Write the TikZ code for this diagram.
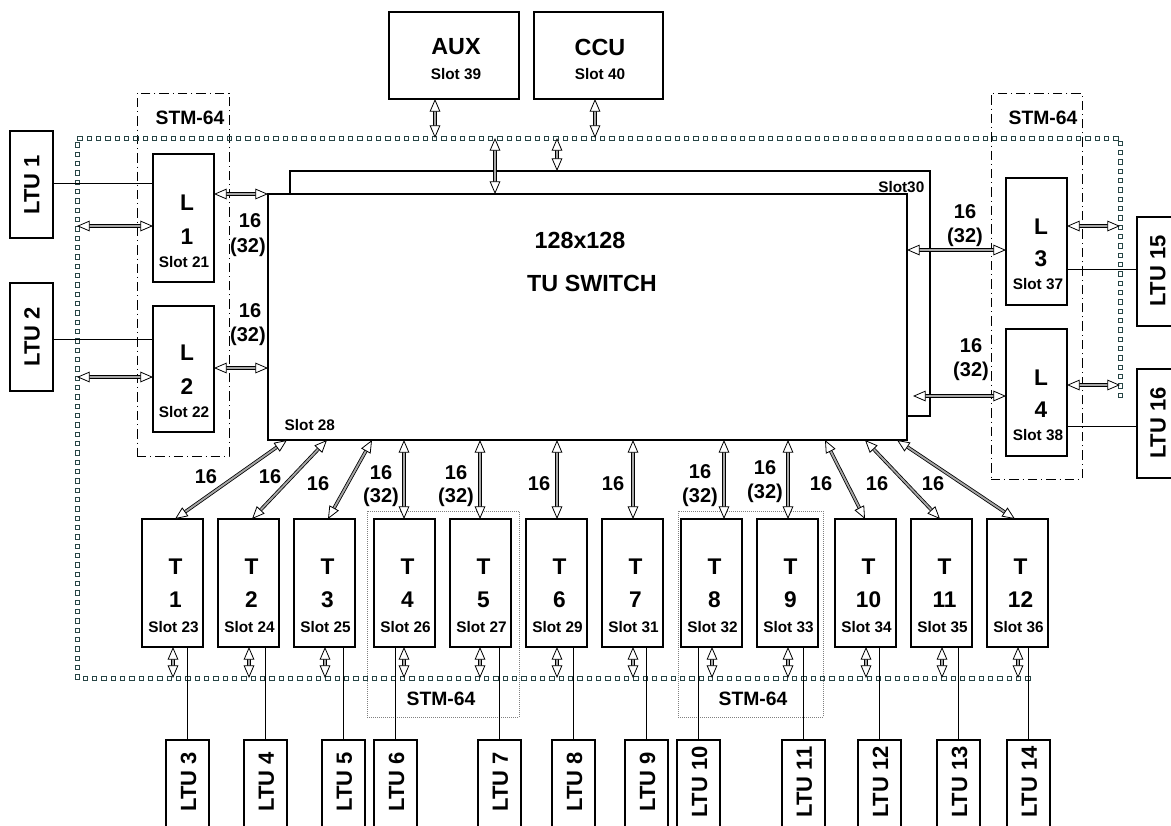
\documentclass[tikz,border=0pt]{standalone}
\usepackage{fontspec}
\setmainfont{Liberation Sans}
\usetikzlibrary{arrows.meta,decorations.markings,calc}
\definecolor{busc}{RGB}{40,70,70}
\newcommand\fsz[1]{\fontsize{#1}{#1}\selectfont\bfseries}
\tikzset{
  box/.style={draw, line width=0.8pt, fill=white, inner sep=0pt, outer sep=0pt, anchor=north west},
  stmdd/.style={draw, line width=0.7pt, dash pattern=on 7pt off 3pt on 0.8pt off 3pt, inner sep=0pt, outer sep=0pt, anchor=north west},
  stmdot/.style={draw=gray, line width=0.5pt, densely dotted, inner sep=0pt, outer sep=0pt, anchor=north west},
  tip/.tip={Triangle[fill=white,length=9.5pt,width=8pt,line width=0.6pt]},
  dbl/.style={draw, line width=0.6pt, double=gray!70, double distance=1.4pt, tip-tip},
  wire/.style={draw, line width=0.6pt},
  bus/.style={postaction={decorate}, decoration={markings,
     mark=between positions 0 and 1 step 7pt with {\node[draw=busc, line width=0.45pt, minimum size=3.3pt, inner sep=0pt]{};}}},
  big/.style={font=\fsz{17}},
  num/.style={font=\fsz{15}},
  slot/.style={font=\fsz{11.5}},
  ltu/.style={font=\fsz{16.5}, rotate=90},
  stml/.style={font=\fsz{14.5}},
}
\newcommand\bx[6][box]{\node[#1, minimum width={(#5-#3)*0.75pt}, minimum height={(#6-#4)*0.75pt}] (#2) at (#3,#4) {};}
\begin{document}
\begin{tikzpicture}[x=0.75pt,y=-0.75pt]
\useasboundingbox (0,0) rectangle (1171,825);
% STM-64 containers
\bx[stmdd]{stmL}{137}{93}{229}{456}
\bx[stmdd]{stmR}{991}{93}{1082}{479}
\bx[stmdot]{stmB1}{367}{511}{519}{717}
\bx[stmdot]{stmB2}{678}{511}{823}{717}
\node[stml] (stmLt) at (190,118) {STM-64};
\node[stml] (stmRt) at (1043,118) {STM-64};
\node[stml] (stmB1t) at (441,699) {STM-64};
\node[stml] (stmB2t) at (753,699) {STM-64};
% bus
\coordinate (bTL) at (77,138);
\coordinate (bTR) at (1120,138);
\coordinate (bRE) at (1120,395);
\coordinate (bBL) at (77,678);
\coordinate (bBE) at (1028,678);
\path[bus] (bRE) -- (bTR) -- (bTL) -- (bBL) -- (bBE);
% switch
\bx{back}{290}{171}{930}{416}
\bx{front}{268}{194}{907}{440}
\node[font=\fsz{17.5}] (sw1) at (580,240) {128x128};
\node[font=\fsz{17.5}] (sw2) at (592,283) {TU SWITCH};
\node[slot, anchor=west] (s28) at (280,425) {Slot 28};
\node[slot, anchor=east] (s30) at (929,187) {Slot30};
% AUX CCU
\bx{aux}{389}{12}{519}{99}
\bx{ccu}{534}{12}{663}{99}
\node[font=\fsz{17.5}] (auxt) at (456,47) {AUX};
\node[slot] (auxs) at (456,74) {Slot 39};
\node[font=\fsz{17.5}] (ccut) at (600,47) {CCU};
\node[slot] (ccus) at (600,74) {Slot 40};
% L boxes
\bx{L1}{153}{154}{214}{282}
\bx{L2}{153}{306}{214}{432}
\bx{L3}{1006}{178}{1067}{305}
\bx{L4}{1006}{329}{1067}{456}
\node[big] (L1a) at (187,203) {L};
\node[big] (L1b) at (187,237) {1};
\node[slot] (L1c) at (184,262) {Slot 21};
\node[big] (L2a) at (187,353) {L};
\node[big] (L2b) at (187,387) {2};
\node[slot] (L2c) at (184,412) {Slot 22};
\node[big] (L3a) at (1041,227) {L};
\node[big] (L3b) at (1041,259) {3};
\node[slot] (L3c) at (1038,284) {Slot 37};
\node[big] (L4a) at (1041,378) {L};
\node[big] (L4b) at (1041,410) {4};
\node[slot] (L4c) at (1038,435) {Slot 38};
% side LTUs
\bx{LTU1}{10}{131}{53}{238}
\bx{LTU2}{10}{283}{53}{391}
\bx{LTU15}{1137}{217}{1185}{326}
\bx{LTU16}{1137}{369}{1185}{478}
\node[ltu] (LTU1t) at (32,185) {LTU 1};
\node[ltu] (LTU2t) at (32,337) {LTU 2};
\node[ltu] (LTU15t) at (1158,271) {LTU 15};
\node[ltu] (LTU16t) at (1158,423) {LTU 16};
% T boxes
\foreach \i/\xl/\s in {1/142/23,2/218/24,3/294/25,4/374/26,5/450/27,6/526/29,7/602/31,8/681/32,9/757/33,10/835/34,11/911/35,12/987/36}{
  \bx{T\i}{\xl}{519}{\xl+61}{647}
  \node[big] (T\i a) at (\xl+33.5,567) {T};
  \node[big] (T\i b) at (\xl+33.5,600) {\i};
  \node[slot] (T\i c) at (\xl+31.5,627) {Slot \s};
}
% bottom LTUs
\foreach \i/\xl in {3/166,4/244,5/322,6/374,7/478,8/552,9/625,10/677,11/782,12/858,13/937,14/1007}{
  \bx{LTU\i}{\xl}{740}{\xl+43}{835}
  \node[ltu] (LTU\i t) at (\xl+22.5,782) {LTU \i};
}
% plain wires
\draw[wire] (LTU1.east |- 0,183) -- (L1.west |- 0,183);
\draw[wire] (LTU2.east |- 0,339) -- (L2.west |- 0,339);
\draw[wire] (L3.east |- 0,269) -- (LTU15.west |- 0,269);
\draw[wire] (L4.east |- 0,426) -- (LTU16.west |- 0,426);
\foreach \t/\l in {1/3,2/4,3/5,4/6,5/7,6/8,7/9,8/10,9/11,10/12,11/13,12/14}{
  \draw[wire] (LTU\l.north |- T\t.south) -- (LTU\l.north);
}
% double arrows top
\draw[dbl] (435,0 |- aux.south) -- (435,0 |- bTL);
\draw[dbl] (595,0 |- ccu.south) -- (595,0 |- bTL);
\draw[dbl] (495,0 |- bTL) -- (495,0 |- front.north);
\draw[dbl] (557,0 |- bTL) -- (557,0 |- back.north);
% left
\draw[dbl] (bTL |- 0,226) -- (L1.west |- 0,226);
\draw[dbl] (bTL |- 0,377) -- (L2.west |- 0,377);
\draw[dbl] (L1.east |- 0,194) -- (front.west |- 0,194);
\draw[dbl] (L2.east |- 0,368) -- (front.west |- 0,368);
% right
\draw[dbl] (front.east |- 0,250) -- (L3.west |- 0,250);
\draw[dbl] (913,396) -- (L4.west |- 0,396);
\draw[dbl] (L3.east |- 0,226) -- (bTR |- 0,226);
\draw[dbl] (L4.east |- 0,385) -- (bTR |- 0,385);
% switch to T
\foreach \t/\xa/\xb in {1/287/175,2/327/252,3/372/328,4/404/404,5/480/480,6/557/557,7/633/633,8/724/724,9/788/788,10/825/865,11/865/940,12/897/1015}{
  \draw[dbl] (\xa,0 |- front.south) -- (\xb,0 |- T\t.north);
}
% T to bus
\foreach \t/\xa in {1/173,2/249,3/325,4/404,5/480,6/557,7/633,8/712,9/788,10/866,11/942,12/1018}{
  \draw[dbl] (\xa,0 |- T\t.south) -- (\xa,0 |- bBL);
}
% labels
\node[num] (n1a) at (250,221) {16};
\node[num] (n1b) at (248,247) {(32)};
\node[num] (n2a) at (250,311) {16};
\node[num] (n2b) at (248,336) {(32)};
\node[num] (n3a) at (965,212) {16};
\node[num] (n3b) at (965,237) {(32)};
\node[num] (n4a) at (971,346) {16};
\node[num] (n4b) at (971,371) {(32)};
\node[num] (t1l) at (206,477) {16};
\node[num] (t2l) at (270,477) {16};
\node[num] (t3l) at (318,484) {16};
\node[num] (t4l) at (381,473) {16};
\node[num] (t4m) at (381,497) {(32)};
\node[num] (t5l) at (456,473) {16};
\node[num] (t5m) at (456,497) {(32)};
\node[num] (t6l) at (539,484) {16};
\node[num] (t7l) at (613,484) {16};
\node[num] (t8l) at (700,472) {16};
\node[num] (t8m) at (700,497) {(32)};
\node[num] (t9l) at (765,468) {16};
\node[num] (t9m) at (765,493) {(32)};
\node[num] (t10l) at (821,484) {16};
\node[num] (t11l) at (877,484) {16};
\node[num] (t12l) at (933,484) {16};
\end{tikzpicture}
\end{document}
